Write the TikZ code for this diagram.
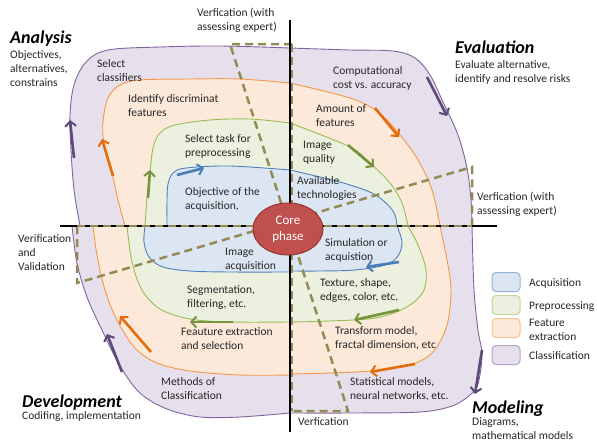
\documentclass[tikz,border=0pt]{standalone}
\usepackage{fontspec}
\setmainfont{Carlito}
\usepackage{tikz}
\usetikzlibrary{calc}
\usetikzlibrary{shapes.geometric}
\usetikzlibrary{arrows.meta}
\usepackage{xcolor}

\definecolor{txt}{HTML}{262626}
\definecolor{clsfill}{HTML}{E6E0EC}
\definecolor{clsline}{HTML}{8064A2}
\definecolor{clsarrow}{HTML}{5F497A}
\definecolor{clsedge}{HTML}{B3A2C7}
\definecolor{featfill}{HTML}{FDE9D9}
\definecolor{featline}{HTML}{F79646}
\definecolor{featarrow}{HTML}{E46C0A}
\definecolor{featedge}{HTML}{FAC090}
\definecolor{prefill}{HTML}{EBF1DE}
\definecolor{preline}{HTML}{9BBB59}
\definecolor{prearrow}{HTML}{77933C}
\definecolor{preedge}{HTML}{C3D69B}
\definecolor{acqfill}{HTML}{DCE6F2}
\definecolor{acqline}{HTML}{4F81BD}
\definecolor{acqarrow}{HTML}{4A7EBB}
\definecolor{acqedge}{HTML}{95B3D7}
\definecolor{verifline}{HTML}{948A54}
\definecolor{corefill}{HTML}{C0504D}
\definecolor{coreline}{HTML}{943634}

\newcommand{\ringpiece}[3]{%
	\fill[#1] (290,226) -- plot[smooth,tension=.55] coordinates {#3} -- cycle;
	\draw[#2] plot[smooth,tension=.55] coordinates {#3};}

\begin{document}
\begin{tikzpicture}[x=1pt,y=-1pt]
				    \tikzstyle{ring}=[line width=.9pt]
				    \tikzstyle{cyclearrow}=[line width=2.6pt,-{Straight Barb[length=5pt,width=11pt,line width=2pt]}]
				    \tikzstyle{verif}=[draw=verifline,line width=2.5pt,dash pattern=on 8pt off 5pt]
				    \tikzstyle{mainaxis}=[draw,line width=1.8pt,black]
				    \tikzstyle{lbl}=[anchor=north west,align=left,inner sep=0pt,text=txt,font=\fontsize{11.5}{14}\selectfont]
				    \tikzstyle{phasehead}=[anchor=base west,inner sep=0pt,text=black,font=\fontsize{18}{20}\selectfont\bfseries\itshape]
				    \tikzstyle{legbox}=[draw,rounded corners=4pt,line width=1pt,minimum width=28pt,minimum height=19pt]
				    \tikzstyle{leglbl}=[anchor=west,align=left,inner sep=0pt,text=txt,font=\fontsize{11.5}{14}\selectfont]
				    \fill[white] (0,0) rectangle (597,447);
				    \useasboundingbox (0,0) rectangle (597,447);
				    \ringpiece{clsfill}{ring,clsline}{(80,226) (74,190) (71,150) (70,115) (74,85) (86,62) (108,50) (160,47) (220,46) (290,48)}
				    \ringpiece{clsfill}{ring,clsline}{(290,48) (350,50) (393,51) (415,58) (430,75) (443,102) (458,135) (467,168) (471,200) (472,226)}
				    \ringpiece{clsfill}{ring,clsline}{(472,226) (474,290) (478,330) (482,355) (478,384) (470,395) (452,406) (420,412) (350,413) (290,413)}
				    \ringpiece{clsfill}{ring,clsline}{(290,413) (240,417) (200,417) (167,409) (140,393) (120,366) (102,330) (87,297) (77,263) (72,226)}
				    \ringpiece{featfill}{ring,featline}{(125,226) (118,200) (112,173) (104,145) (103,122) (108,98) (120,85) (140,80) (190,79) (240,79) (290,83)}
				    \ringpiece{featfill}{ring,featline}{(290,83) (350,98) (378,112) (400,135) (418,160) (432,190) (440,226)}
				    \ringpiece{featfill}{ring,featline}{(440,226) (447,260) (451,290) (447,325) (433,352) (410,365) (370,371) (330,373) (290,374)}
				    \ringpiece{featfill}{ring,featline}{(290,375) (240,375) (190,371) (157,363) (135,348) (117,320) (105,290) (97,255) (93,226)}
				    \ringpiece{prefill}{ring,preline}{(145,226) (147,198) (150,172) (153,148) (160,133) (175,125) (210,120) (250,119) (290,123)}
				    \ringpiece{prefill}{ring,preline}{(290,123) (350,147) (372,165) (390,183) (402,203) (408,226)}
				    \ringpiece{prefill}{ring,preline}{(408,226) (418,245) (426,270) (423,292) (405,308) (375,318) (330,321) (290,322)}
				    \ringpiece{prefill}{ring,preline}{(290,322) (230,322) (190,319) (160,309) (142,290) (132,262) (127,226)}
				    \ringpiece{acqfill}{ring,acqline}{(167,226) (167,200) (168,184) (173,173) (186,168) (230,166) (290,170)}
				    \ringpiece{acqfill}{ring,acqline}{(290,170) (340,182) (372,193) (388,205) (395,215) (397,226)}
				    \ringpiece{acqfill}{ring,acqline}{(397,226) (402,242) (398,256) (385,265) (355,270) (320,271) (290,271)}
				    \ringpiece{acqfill}{ring,acqline}{(290,272) (230,272) (190,271) (163,267) (149,257) (144,242) (145,226)}
				    \coordinate (vtop) at (230,44);
				    \coordinate (vbot) at (348,411);
				    \coordinate (vleft) at (77,283);
				    \coordinate (vright) at (472,167);
				    \draw[verif] (292,44) -- (vtop) -- (vbot) -- (292,411);
				    \draw[verif] (77,226) -- (vleft) -- (vright) -- (472,226);
				    \draw[mainaxis] (290,20) -- (290,432);
				    \draw[mainaxis] (60,226) -- (497,226);
				    \draw[verif] (292,44) -- (292,411);
				    \draw[verif] (77,226) -- (472,226);
				    \node[ellipse,draw=coreline,fill=corefill,line width=1pt,minimum width=70pt,minimum height=52pt,inner sep=0pt,align=center,text=white,font=\fontsize{13}{16}\selectfont] (core) at (288,229) {Core\\phase};
				    \draw[cyclearrow,clsarrow] (74,158) -- (70,120);
				    \draw[cyclearrow,clsarrow] (427,77) -- (447,116);
				    \draw[cyclearrow,clsarrow] (482,350) -- (475,394);
				    \draw[cyclearrow,clsarrow] (122,372) -- (107,334);
				    \draw[cyclearrow,featarrow] (113,176) -- (102,139);
				    \draw[cyclearrow,featarrow] (375,108) -- (399,137);
				    \draw[cyclearrow,featarrow] (415,364) -- (370,372);
				    \draw[cyclearrow,featarrow] (151,352) -- (120,316);
				    \draw[cyclearrow,prearrow] (148,198) -- (150,170);
				    \draw[cyclearrow,prearrow] (348,145) -- (374,167);
				    \draw[cyclearrow,prearrow] (399,310) -- (354,320);
				    \draw[cyclearrow,prearrow] (233,322) -- (190,322);
				    \draw[cyclearrow,acqarrow] (177,175) -- (204,168);
				    \draw[cyclearrow,acqarrow] (399,262) -- (366,267);
				    \node[phasehead] (analysis) at (10,43) {Analysis};
				    \node[lbl] (analysisTxt) at (10,50) {Objectives,\\alternatives,\\constrains};
				    \node[phasehead] (evaluation) at (455,53) {Evaluation};
				    \node[lbl] (evaluationTxt) at (455,60) {Evaluate alternative,\\identify and resolve risks};
				    \node[phasehead] (development) at (22,407) {Development};
				    \node[lbl] (developmentTxt) at (22,411.5) {Codifing, implementation};
				    \node[phasehead] (modeling) at (472,413) {Modeling};
				    \node[lbl] (modelingTxt) at (472,417.5) {Diagrams,\\mathematical models};
				    \node[lbl] (verTop) at (197,8) {Verfication (with\\assessing expert)};
				    \node[lbl] (verRight) at (477,191.5) {Verfication (with\\assessing expert)};
				    \node[lbl] (verLeft) at (18,234.5) {Verification\\and\\Validation};
				    \node[lbl] (verBottom) at (298,417.5) {Verfication};
				    \node[lbl] (selClass) at (97,59.5) {Select\\classifiers};
				    \node[lbl] (identFeat) at (128,94.5) {Identify discriminat\\features};
				    \node[lbl] (selTask) at (185,134.5) {Select task for\\preprocessing};
				    \node[lbl] (objAcq) at (185,187.5) {Objective of the\\acquisition,};
				    \node[lbl] (compCost) at (333,66) {Computational\\cost vs. accuracy};
				    \node[lbl] (amountFeat) at (316,104.5) {Amount of\\features};
				    \node[lbl] (imgQual) at (303,141) {Image\\quality};
				    \node[lbl] (availTech) at (297,176) {Available\\technologies};
				    \node[lbl] (simAcq) at (325,238.5) {Simulation or\\acquistion};
				    \node[lbl] (texture) at (320,278) {Texture, shape,\\edges, color, etc.};
				    \node[lbl] (transform) at (335,326.5) {Transform model,\\fractal dimension, etc};
				    \node[lbl] (statModels) at (350,377.5) {Statistical models,\\neural networks, etc.};
				    \node[lbl] (imgAcq) at (225,247.5) {Image\\acquisition};
				    \node[lbl] (segment) at (187,285.5) {Segmentation,\\filtering, etc.};
				    \node[lbl] (featSel) at (181,327.5) {Feauture extraction\\and selection};
				    \node[lbl] (methClass) at (161,377.5) {Methods of\\Classification};
				    \node[legbox,fill=acqfill,draw=acqedge] (legAcq) at (506,282) {};
				    \node[legbox,fill=prefill,draw=preedge] (legPre) at (506,305) {};
				    \node[legbox,fill=featfill,draw=featedge] (legFeat) at (506,328) {};
				    \node[legbox,fill=clsfill,draw=clsedge] (legCls) at (506,355) {};
				    \node[leglbl] (legAcqTxt) at (529,283) {Acquisition};
				    \node[leglbl] (legPreTxt) at (529,307) {Preprocessing};
				    \node[leglbl] (legFeatTxt) at (529,330) {Feature\\extraction};
				    \node[leglbl] (legClsTxt) at (529,356) {Classification};
				\end{tikzpicture}
\end{document}
